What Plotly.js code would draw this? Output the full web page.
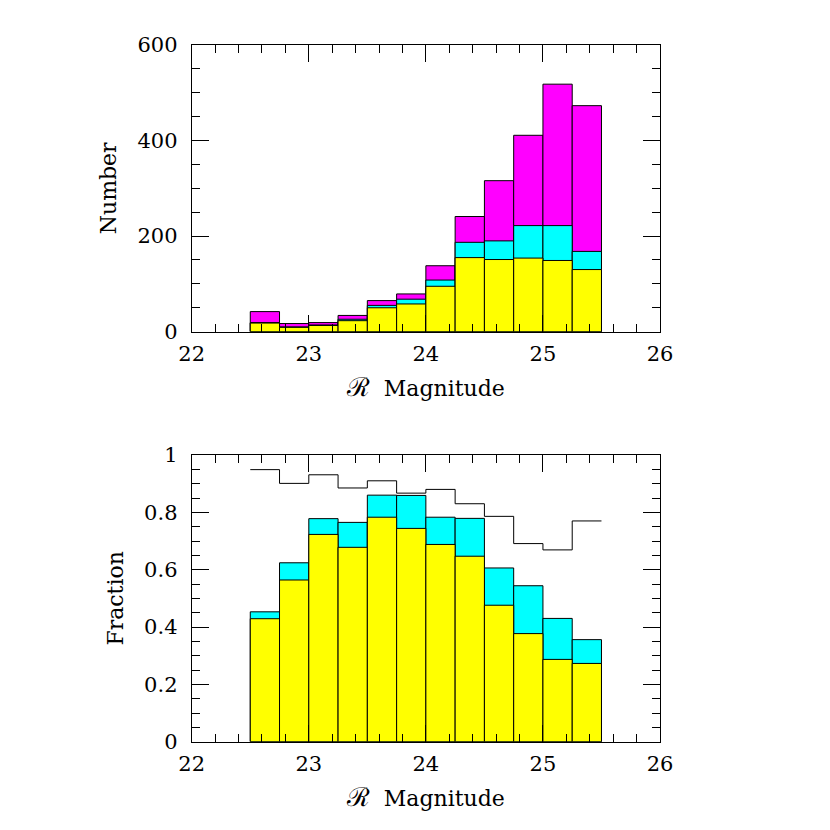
<!DOCTYPE html>
<html>
<head>
<meta charset="utf-8">
<script src="https://cdn.plot.ly/plotly-3.0.1.min.js"></script>
<style>
  html, body { margin: 0; padding: 0; background: #fff; }
  #chart { width: 830px; height: 830px; }
</style>
</head>
<body>
<div id="chart"></div>
<script>
// bin left edges (R magnitude), width 0.25
const binStarts = [22.5, 22.75, 23, 23.25, 23.5, 23.75, 24, 24.25, 24.5, 24.75, 25, 25.25];
const binWidth = 0.25;

// top panel: cumulative counts
const countAll = [42, 17, 19, 34, 65, 79, 138, 241, 316, 411, 518, 473];
const countCyan = [19, 10, 14, 26, 55, 68, 108, 187, 190, 222, 222, 168];
const countYellow = [18, 9, 13, 23, 50, 58, 95, 155, 151, 154, 149, 130];

// bottom panel: fractions
const fracCyan = [0.453, 0.624, 0.778, 0.765, 0.860, 0.859, 0.783, 0.779, 0.606, 0.544, 0.430, 0.356];
const fracYellow = [0.429, 0.564, 0.723, 0.678, 0.783, 0.744, 0.688, 0.647, 0.476, 0.377, 0.287, 0.273];
const fracLine = [0.949, 0.901, 0.931, 0.885, 0.910, 0.867, 0.880, 0.830, 0.786, 0.691, 0.669, 0.770];

const centers = binStarts.map((x) => x + binWidth / 2);
const fontFam = "DejaVu Serif, Liberation Serif, serif";
const magTitle = '<span style="font-size:26px">ℛ</span>\u00a0\u00a0Magnitude';

function barTrace(values, color, xa, ya) {
  return {
    type: "bar",
    x: centers,
    y: values,
    width: binWidth,
    xaxis: xa,
    yaxis: ya,
    marker: { color: color, line: { color: "#000", width: 1 } },
    hoverinfo: "skip",
  };
}

// step line: repeat last value at the right edge
const stepX = binStarts.concat([binStarts[binStarts.length - 1] + binWidth]);
const stepY = fracLine.concat([fracLine[fracLine.length - 1]]);

const traces = [
  barTrace(countAll, "#ff00ff", "x", "y"),
  barTrace(countCyan, "#00ffff", "x", "y"),
  barTrace(countYellow, "#ffff00", "x", "y"),
  barTrace(fracCyan, "#00ffff", "x2", "y2"),
  barTrace(fracYellow, "#ffff00", "x2", "y2"),
  {
    type: "scatter",
    mode: "lines",
    x: stepX,
    y: stepY,
    xaxis: "x2",
    yaxis: "y2",
    line: { color: "#000", width: 1, shape: "hv" },
    hoverinfo: "skip",
  },
];

function xAxis(anchor) {
  return {
    domain: [0.231, 0.7952],
    anchor: anchor,
    range: [22, 26],
    tickvals: [22, 23, 24, 25, 26],
    ticks: "inside",
    ticklen: 17,
    tickcolor: "#000",
    ticklabelstandoff: 3,
    minor: { dtick: 0.2, tick0: 22, ticks: "inside", ticklen: 8, tickcolor: "#000" },
    showline: true,
    linecolor: "#000",
    linewidth: 1,
    mirror: "ticks",
    showgrid: false,
    zeroline: false,
    tickfont: { family: fontFam, size: 21, color: "#000" },
    title: { text: magTitle, font: { family: fontFam, size: 22, color: "#000" }, standoff: 15 },
  };
}

function yAxis(domain, anchor, range, tickvals, minorStep, ticktext, title) {
  return {
    domain: domain,
    anchor: anchor,
    range: range,
    tickvals: tickvals,
    ticktext: ticktext,
    ticks: "inside",
    ticklen: 17,
    tickcolor: "#000",
    ticklabelstandoff: 9,
    minor: { dtick: minorStep, tick0: 0, ticks: "inside", ticklen: 8, tickcolor: "#000" },
    showline: true,
    linecolor: "#000",
    linewidth: 1,
    mirror: "ticks",
    showgrid: false,
    zeroline: false,
    tickfont: { family: fontFam, size: 21, color: "#000" },
    title: { text: title, font: { family: fontFam, size: 22, color: "#000" }, standoff: 14 },
  };
}

const layout = {
  width: 830,
  height: 830,
  margin: { l: 0, r: 0, t: 0, b: 0 },
  paper_bgcolor: "#fff",
  plot_bgcolor: "#fff",
  showlegend: false,
  barmode: "overlay",
  bargap: 0,
  xaxis: xAxis("y"),
  yaxis: yAxis([0.6004, 0.9458], "x", [0, 600], [0, 200, 400, 600], 50,
    ["0", "200", "400", "600"], "Number"),
  xaxis2: xAxis("y2"),
  yaxis2: yAxis([0.1064, 0.4518], "x2", [0, 1], [0, 0.2, 0.4, 0.6, 0.8, 1], 0.05,
    ["0", "0.2", "0.4", "0.6", "0.8", "1"], "Fraction"),
};

Plotly.newPlot("chart", traces, layout, { staticPlot: true });
</script>
</body>
</html>
